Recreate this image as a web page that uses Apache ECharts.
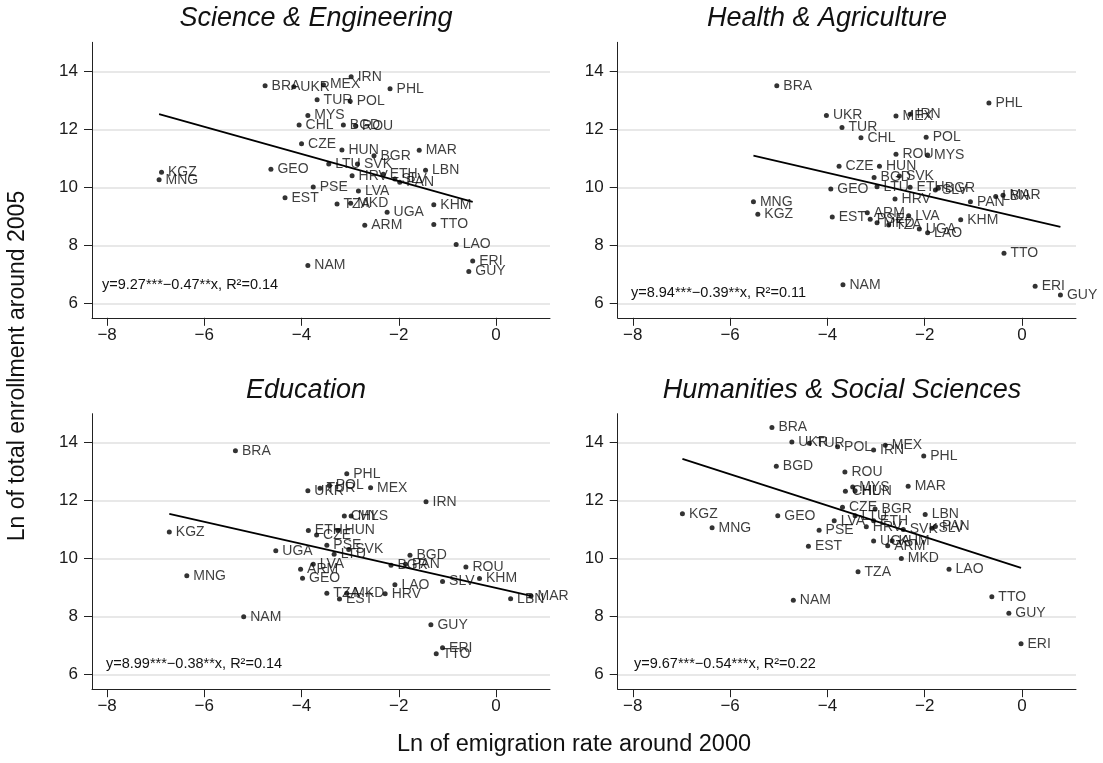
<!DOCTYPE html>
<html>
<head>
<meta charset="utf-8">
<title>Enrollment and emigration by field</title>
<script src="https://cdn.jsdelivr.net/npm/echarts@6/dist/echarts.min.js"></script>
<style>
  html, body { margin: 0; padding: 0; background: #ffffff; }
  #chart { width: 1103px; height: 763px; }
</style>
</head>
<body>
<div id="chart"></div>
<script>
// ---- data: ln emigration rate (x) vs ln enrollment (y), one set per field ----
const panelTitles = ['Science & Engineering', 'Health & Agriculture', 'Education', 'Humanities & Social Sciences'];

const scienceCodes = ['BRA','UKR','MEX','IRN','PHL','TUR','POL','MYS','CHL','BGD','ROU','CZE','HUN','MAR','BGR','LTU','SVK','LBN','GEO','HRV','ETH','SLV','PAN','KGZ','MNG','PSE','EST','LVA','TZA','MKD','KHM','UGA','ARM','TTO','LAO','ERI','GUY','NAM'];
const scienceX = [-4.75,-4.16,-3.55,-2.98,-2.18,-3.68,-3.00,-3.87,-4.05,-3.14,-2.89,-4.00,-3.17,-1.58,-2.51,-3.44,-2.85,-1.45,-4.63,-2.96,-2.32,-2.08,-1.98,-6.88,-6.93,-3.76,-4.34,-2.83,-3.27,-2.99,-1.28,-2.24,-2.70,-1.28,-0.82,-0.48,-0.56,-3.87];
const scienceY = [13.50,13.47,13.54,13.81,13.40,13.02,12.97,12.48,12.15,12.15,12.12,11.50,11.29,11.28,11.09,10.80,10.80,10.59,10.62,10.40,10.45,10.29,10.17,10.52,10.26,10.01,9.64,9.87,9.42,9.45,9.40,9.14,8.69,8.72,8.03,7.46,7.10,7.30];

const healthCodes = ['BRA','UKR','TUR','CHL','MEX','IRN','PHL','POL','ROU','MYS','CZE','HUN','BGD','SVK','GEO','LTU','ETH','SLV','BGR','HRV','PAN','LBN','MAR','EST','ARM','PSE','MKD','TZA','LVA','UGA','LAO','KHM','TTO','NAM','ERI','GUY','MNG','KGZ'];
const healthX = [-5.04,-4.02,-3.70,-3.31,-2.59,-2.30,-0.68,-1.97,-2.59,-1.94,-3.76,-2.93,-3.04,-2.52,-3.93,-2.98,-2.30,-1.78,-1.72,-2.61,-1.06,-0.54,-0.39,-3.90,-3.18,-3.12,-2.98,-2.74,-2.33,-2.11,-1.94,-1.26,-0.37,-3.68,0.27,0.79,-5.52,-5.43];
const healthY = [13.50,12.48,12.06,11.71,12.46,12.52,12.91,11.73,11.14,11.11,10.73,10.73,10.34,10.39,9.94,10.02,10.00,9.91,9.97,9.60,9.50,9.68,9.73,8.98,9.12,8.90,8.78,8.70,9.02,8.56,8.43,8.88,7.73,6.64,6.59,6.29,9.50,9.07];

const educationCodes = ['BRA','UKR','TUR','POL','PHL','MEX','IRN','CHL','MYS','ETH','HUN','CZE','PSE','SVK','LTU','UGA','KGZ','BGD','BGR','PAN','ROU','KHM','SLV','LAO','HRV','TZA','MKD','EST','LBN','MAR','GUY','ERI','TTO','ARM','LVA','GEO','MNG','NAM'];
const educationX = [-5.36,-3.87,-3.62,-3.43,-3.07,-2.58,-1.44,-3.12,-2.98,-3.86,-3.25,-3.69,-3.48,-3.03,-3.33,-4.53,-6.72,-1.77,-2.16,-1.86,-0.62,-0.34,-1.10,-2.08,-2.28,-3.48,-3.07,-3.22,0.30,0.72,-1.34,-1.10,-1.23,-4.02,-3.76,-3.98,-6.36,-5.19];
const educationY = [13.72,12.34,12.43,12.52,12.93,12.45,11.96,11.47,11.47,10.97,10.97,10.82,10.46,10.32,10.15,10.27,10.92,10.12,9.77,9.81,9.71,9.32,9.21,9.10,8.79,8.81,8.81,8.61,8.62,8.71,7.72,6.93,6.72,9.64,9.81,9.33,9.41,8.00];

const humanitiesCodes = ['BRA','UKR','TUR','BGD','KGZ','MNG','GEO','PSE','EST','NAM','POL','IRN','MEX','PHL','ROU','MYS','CHL','HUN','MAR','CZE','BGR','LBN','LVA','LTU','ETH','HRV','SVK','SLV','PAN','UGA','KHM','ARM','MKD','TZA','LAO','TTO','GUY','ERI'];
const humanitiesX = [-5.14,-4.73,-4.37,-5.05,-6.98,-6.37,-5.02,-4.17,-4.39,-4.70,-3.79,-3.05,-2.81,-2.02,-3.64,-3.48,-3.63,-3.43,-2.34,-3.69,-3.02,-1.99,-3.86,-3.43,-3.05,-3.20,-2.44,-1.85,-1.78,-3.05,-2.67,-2.76,-2.48,-3.37,-1.50,-0.62,-0.27,-0.02];
const humanitiesY = [14.52,14.02,13.98,13.19,11.55,11.07,11.48,10.98,10.43,8.57,13.86,13.75,13.91,13.54,12.99,12.47,12.33,12.34,12.50,11.77,11.71,11.52,11.31,11.48,11.31,11.10,11.01,11.05,11.11,10.61,10.62,10.45,10.01,9.55,9.64,8.69,8.12,7.07];

// fitted lines: intercept, slope and fit text per field
const fitIntercepts = [9.27, 8.94, 8.99, 9.67];
const fitSlopes = [-0.47, -0.39, -0.38, -0.54];
const fitTexts = [
  'y=9.27***\u22120.47**x, R\u00b2=0.14',
  'y=8.94***\u22120.39**x, R\u00b2=0.11',
  'y=8.99***\u22120.38**x, R\u00b2=0.14',
  'y=9.67***\u22120.54***x, R\u00b2=0.22'
];

const xTicks = [-8, -6, -4, -2, 0];
const yTicks = [6, 8, 10, 12, 14];

const xTitle = 'Ln of emigration rate around 2000';
const yTitle = 'Ln of total enrollment around 2005';

// ---- layout ----
const FONT = '"Liberation Sans", Arial, Helvetica, sans-serif';
const panels = [
  { codes: scienceCodes, xs: scienceX, ys: scienceY },
  { codes: healthCodes, xs: healthX, ys: healthY },
  { codes: educationCodes, xs: educationX, ys: educationY },
  { codes: humanitiesCodes, xs: humanitiesX, ys: humanitiesY }
];
const gridBoxes = [
  { left: 92, top: 42.3, width: 458, height: 275.5 },
  { left: 617.7, top: 42.3, width: 458.3, height: 275.5 },
  { left: 92, top: 413.7, width: 458, height: 275.5 },
  { left: 617.7, top: 413.7, width: 458.3, height: 275.5 }
];
const titlePos = [[316, 18], [827, 18], [306, 390], [842, 390]];
const fitTextPos = [[102, 285], [631, 293], [106, 664], [634, 664]];

const minus = v => (v < 0 ? '\u2212' + Math.abs(v) : String(v));

const grid = [], xAxis = [], yAxis = [], series = [], graphic = [];

panels.forEach((p, i) => {
  grid.push(Object.assign({ containLabel: false }, gridBoxes[i]));
  xAxis.push({
    type: 'value', gridIndex: i, min: -8.31, max: 1.11,
    axisLine: { show: true, onZero: false, lineStyle: { color: '#222', width: 1 } },
    axisTick: { show: true, length: 8, customValues: xTicks, lineStyle: { color: '#222' } },
    axisLabel: { customValues: xTicks, formatter: minus, fontFamily: FONT, fontSize: 17, color: '#1a1a1a', margin: 9 },
    splitLine: { show: false }
  });
  yAxis.push({
    type: 'value', gridIndex: i, min: 5.5, max: 15,
    axisLine: { show: true, onZero: false, lineStyle: { color: '#222', width: 1 } },
    axisTick: { show: true, length: 8, customValues: yTicks, lineStyle: { color: '#222' } },
    axisLabel: { customValues: yTicks, fontFamily: FONT, fontSize: 17, color: '#1a1a1a', margin: 14 },
    splitLine: { show: true, lineStyle: { color: '#e8e8e8', width: 2 } }
  });

  series.push({
    type: 'scatter', xAxisIndex: i, yAxisIndex: i,
    symbol: 'circle', symbolSize: 5,
    itemStyle: { color: '#000' },
    data: p.codes.map((c, k) => ({ name: c, value: [p.xs[k], p.ys[k]] })),
    label: {
      show: true, position: 'right', distance: 4,
      formatter: d => d.name,
      fontFamily: FONT, fontSize: 14, color: '#0d0d0d'
    },
    emphasis: { disabled: true },
    silent: true
  });

  const x0 = Math.min(...p.xs), x1 = Math.max(...p.xs);
  series.push({
    type: 'line', xAxisIndex: i, yAxisIndex: i,
    symbol: 'none', silent: true,
    lineStyle: { color: '#000', width: 1.8 },
    data: [[x0, fitIntercepts[i] + fitSlopes[i] * x0], [x1, fitIntercepts[i] + fitSlopes[i] * x1]],
    z: 1
  });

  graphic.push({
    type: 'text', x: titlePos[i][0], y: titlePos[i][1],
    style: { text: panelTitles[i], font: 'italic 27px ' + FONT, fill: '#111', align: 'center', verticalAlign: 'middle' }
  });
  graphic.push({
    type: 'text', x: fitTextPos[i][0], y: fitTextPos[i][1],
    style: { text: fitTexts[i], font: '14.5px ' + FONT, fill: '#111', align: 'left', verticalAlign: 'middle' }
  });
});

graphic.push({
  type: 'text', x: 574, y: 745,
  style: { text: xTitle, font: '23.5px ' + FONT, fill: '#111', align: 'center', verticalAlign: 'middle' }
});
graphic.push({
  type: 'text', x: 18, y: 366, rotation: Math.PI / 2,
  style: { text: yTitle, font: '23px ' + FONT, fill: '#111', align: 'center', verticalAlign: 'middle' }
});

const chart = echarts.init(document.getElementById('chart'), null, { renderer: 'canvas' });
chart.setOption({
  animation: false,
  backgroundColor: '#ffffff',
  grid, xAxis, yAxis, series, graphic
});
</script>
</body>
</html>
